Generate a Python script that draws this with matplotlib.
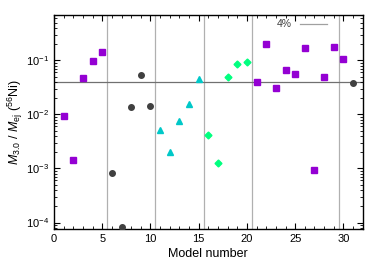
import numpy as np
import matplotlib
matplotlib.use("Agg")
import matplotlib.pyplot as plt
from matplotlib.ticker import LogLocator, MultipleLocator

plt.rcParams["font.family"] = ["Liberation Sans", "DejaVu Sans"]
plt.rcParams["mathtext.fontset"] = "custom"
plt.rcParams["mathtext.rm"] = "Liberation Sans"
plt.rcParams["mathtext.it"] = "Liberation Sans:italic"

# model groups and their M_3.0 / M_ej(56Ni) values
sq1_models = [1, 2, 3, 4, 5]
sq1_vals = [0.0095, 0.00145, 0.048, 0.099, 0.143]

circ_models = [6, 7, 8, 9, 10, 31]
circ_vals = [0.00082, 8.1e-5, 0.0135, 0.053, 0.0143, 0.038]

tri_models = [11, 12, 13, 14, 15]
tri_vals = [0.0052, 0.0020, 0.0076, 0.0156, 0.045]

dia_models = [16, 17, 18, 19, 20]
dia_vals = [0.0042, 0.00126, 0.050, 0.086, 0.092]

sq2_models = [21, 22, 23, 24, 25, 26, 27, 28, 29, 30]
sq2_vals = [0.040, 0.204, 0.031, 0.067, 0.055, 0.17, 0.00095, 0.049, 0.177, 0.107]

group_edges = [5.5, 10.5, 15.5, 20.5, 29.5]
threshold = 0.04

fig = plt.figure(figsize=(3.82, 2.67), dpi=100)
ax = fig.add_axes([0.1414, 0.1412, 0.8081, 0.8038])

for xe in group_edges:
    ax.axvline(xe, color="#b0b0b0", lw=0.9, zorder=1)
ax.axhline(threshold, color="#707070", lw=0.9, zorder=1)

ax.plot(sq1_models, sq1_vals, "s", color="#9400d3", ms=3.8, zorder=3)
ax.plot(sq2_models, sq2_vals, "s", color="#9400d3", ms=3.8, zorder=3)
ax.plot(circ_models, circ_vals, "o", color="#404040", ms=4.0, zorder=3)
ax.plot(tri_models, tri_vals, "^", color="#00c8c8", ms=4.2, zorder=3)
ax.plot(dia_models, dia_vals, "D", color="#00ff7f", ms=3.5, zorder=3)

# legend-like key for the 4% line
ax.plot([25.5, 28.3], [0.47, 0.47], color="#a0a0a0", lw=0.9, zorder=2)
ax.text(24.6, 0.47, "4%", ha="right", va="center", fontsize=7.5, color="#404040")

ax.set_yscale("log")
ax.set_xlim(0, 32)
ax.set_ylim(7.5e-5, 0.7)
ax.xaxis.set_major_locator(MultipleLocator(5))
ax.xaxis.set_minor_locator(MultipleLocator(1))
ax.yaxis.set_major_locator(LogLocator(base=10, numticks=10))
ax.yaxis.set_minor_locator(LogLocator(base=10, subs=np.arange(2, 10), numticks=10))

ax.tick_params(which="both", direction="in", top=True, right=True, labelsize=8)
ax.tick_params(which="major", length=4, width=0.8)
ax.tick_params(which="minor", length=2, width=0.6)
for s in ax.spines.values():
    s.set_linewidth(1.0)

ax.set_xlabel("Model number", fontsize=9, labelpad=2.5)
ax.set_ylabel(r"$M_{3.0}$ / $M_{\rm ej}$ ($^{56}$Ni)", fontsize=9, labelpad=1)

fig.savefig("out.png", dpi=100)
